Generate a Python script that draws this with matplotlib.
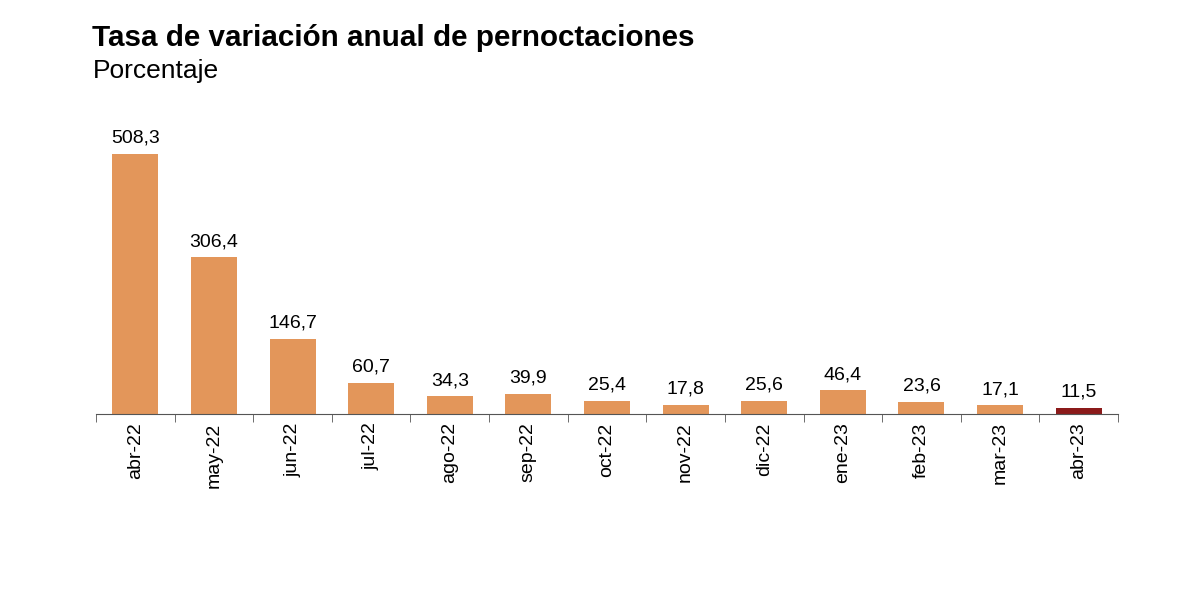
import matplotlib.pyplot as plt
import numpy as np

plt.rcParams['font.family'] = ['Liberation Sans', 'DejaVu Sans']

# === Data ===
months = ['abr-22', 'may-22', 'jun-22', 'jul-22', 'ago-22', 'sep-22', 'oct-22',
          'nov-22', 'dic-22', 'ene-23', 'feb-23', 'mar-23', 'abr-23']
values = [508.3, 306.4, 146.7, 60.7, 34.3, 39.9, 25.4, 17.8, 25.6, 46.4, 23.6, 17.1, 11.5]

colors = ['#E3965A'] * (len(values) - 1) + ['#8B1A1A']

fig = plt.figure(figsize=(12, 5.99), dpi=100)
ax = fig.add_axes([0.08, 0.3088, 0.8517, 0.5126])

x = np.arange(len(values))
ax.bar(x, values, width=0.585, color=colors)

for xi, v in zip(x, values):
    ax.text(xi, v + 14, f'{v:.1f}'.replace('.', ','), ha='center', va='bottom', fontsize=14)

ax.set_xlim(-0.5, len(values) - 0.5)
ax.set_ylim(0, 600)
ax.set_yticks([])
ax.set_xticks(x)
ax.set_xticklabels(months, rotation=90, fontsize=14)
ax.tick_params(axis='x', which='major', length=0, pad=6)
ax.set_xticks(np.arange(-0.5, len(values)), minor=True)
ax.tick_params(axis='x', which='minor', length=6, color='#555555', direction='out')

for s in ['top', 'right', 'left']:
    ax.spines[s].set_visible(False)
ax.spines['bottom'].set_color('#555555')

fig.text(0.077, 0.937, 'Tasa de variación anual de pernoctaciones', fontsize=21.3,
         fontweight='bold', va='center')
fig.text(0.077, 0.882, 'Porcentaje', fontsize=19, va='center')

fig.savefig('out.png', dpi=100)
